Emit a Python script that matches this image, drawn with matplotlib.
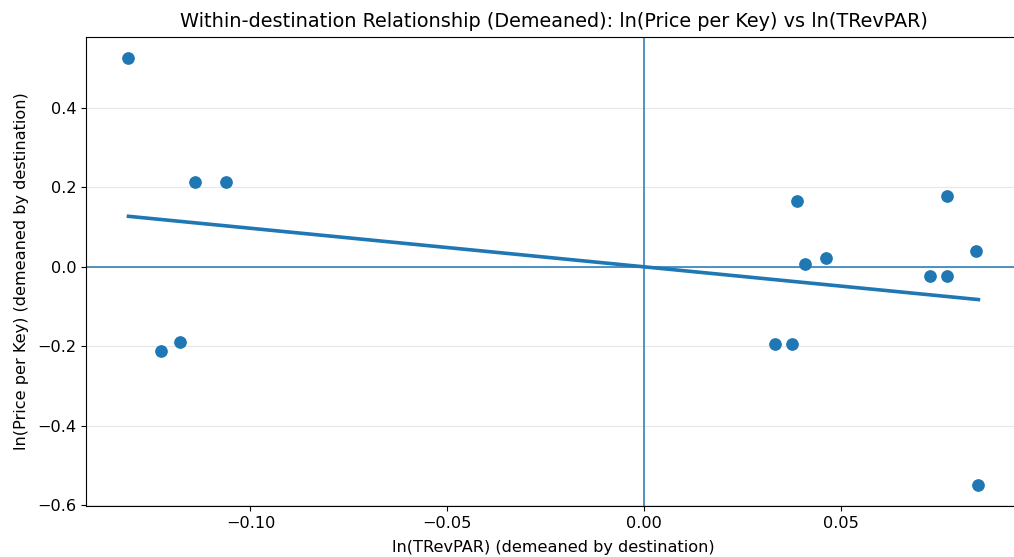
import numpy as np
import matplotlib
matplotlib.use("Agg")
import matplotlib.pyplot as plt

# demeaned values
x_trevpar = [-0.1310, -0.1142, -0.1061, -0.1228, -0.1178,
             0.0332, 0.0376, 0.0388, 0.0409, 0.0462,
             0.0728, 0.0769, 0.0769, 0.0843, 0.0850]
y_price = [0.5245, 0.2138, 0.2138, -0.2113, -0.1887,
           -0.1937, -0.1937, 0.1660, 0.0075, 0.0226,
           -0.0226, -0.0226, 0.1786, 0.0403, -0.5480]


def main():
    plt.rcParams["font.size"] = 11.6
    x = np.array(x_trevpar)
    y = np.array(y_price)

    # slope through origin (both demeaned)
    slope = (x * y).sum() / (x * x).sum()
    xs = np.linspace(x.min(), x.max(), 50)

    fig = plt.figure(figsize=(10.14, 5.57), dpi=100)
    ax = fig.add_axes([0.0848, 0.0916, 0.922, 0.842])
    ax.scatter(x, y, s=66, color="C0", zorder=3)
    ax.plot(xs, slope * xs, color="C0", lw=2.6)
    ax.axhline(0, color="C0", lw=1.1)
    ax.axvline(0, color="C0", lw=1.1)
    ax.grid(axis="y", alpha=0.3)
    ax.set_title("Within-destination Relationship (Demeaned): ln(Price per Key) vs ln(TRevPAR)",
                 fontsize=13.9, pad=7.5)
    ax.set_xlabel("ln(TRevPAR) (demeaned by destination)", labelpad=6.5)
    ax.set_ylabel("ln(Price per Key) (demeaned by destination)", labelpad=6.0)
    ax.set_yticks([-0.6, -0.4, -0.2, 0.0, 0.2, 0.4])
    ax.set_xticks([-0.10, -0.05, 0.00, 0.05])

    fig.savefig("out.png", dpi=100)


if __name__ == '__main__':
    main()
